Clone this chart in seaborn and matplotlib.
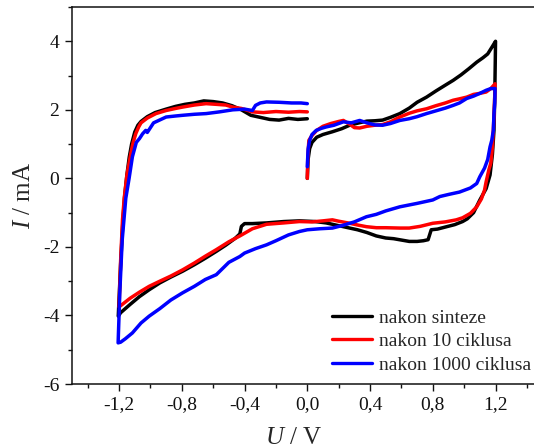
import numpy as np
import pandas as pd
import matplotlib
matplotlib.use('Agg')
import matplotlib.pyplot as plt
import seaborn as sns
from matplotlib.lines import Line2D
from matplotlib.ticker import FixedLocator, MultipleLocator

# --- podaci ocitani sa slike (U / V, I / mA) ---
u_sinteze = [0.00, 0.005, 0.015, 0.03, 0.06, 0.10, 0.16, 0.22, 0.27, 0.33, 0.38, 0.43, 0.48, 0.53,
             0.59, 0.65, 0.70, 0.76, 0.82, 0.88, 0.93, 0.98, 1.03, 1.08, 1.12, 1.15, 1.18, 1.20,
             1.198, 1.195, 1.19, 1.18, 1.165, 1.14, 1.10, 1.06, 1.02, 0.99, 0.94, 0.88, 0.83, 0.79,
             0.77, 0.74, 0.70, 0.65, 0.60, 0.55, 0.50, 0.44, 0.38, 0.32, 0.27, 0.20, 0.12, 0.05,
             -0.05, -0.15, -0.26, -0.35, -0.40, -0.42, -0.43, -0.46, -0.52, -0.58, -0.65, -0.72,
             -0.795, -0.87, -0.94, -1.008, -1.07, -1.13, -1.19, -1.205,
             -1.19, -1.175, -1.165, -1.15, -1.135, -1.12, -1.10, -1.08, -1.06, -1.02, -0.97, -0.90,
             -0.84, -0.78, -0.72, -0.66, -0.60, -0.54, -0.48, -0.42, -0.36, -0.30, -0.24, -0.18,
             -0.12, -0.06, 0.00]
i_sinteze = [0.00, 0.55, 0.87, 1.05, 1.20, 1.28, 1.36, 1.45, 1.55, 1.62, 1.67, 1.68, 1.70, 1.78,
             1.89, 2.05, 2.22, 2.37, 2.55, 2.72, 2.86, 3.02, 3.20, 3.39, 3.52, 3.63, 3.85, 4.00,
             3.34, 2.40, 1.40, 0.70, 0.10, -0.30, -0.63, -1.00, -1.18, -1.26, -1.35, -1.42, -1.48, -1.50,
             -1.79, -1.82, -1.84, -1.84, -1.80, -1.76, -1.74, -1.68, -1.58, -1.50, -1.45, -1.38, -1.30, -1.26,
             -1.24, -1.26, -1.30, -1.32, -1.32, -1.40, -1.62, -1.75, -1.95, -2.13, -2.33, -2.52,
             -2.71, -2.88, -3.05, -3.25, -3.45, -3.68, -3.92, -4.02,
             -2.50, -1.20, -0.55, 0.10, 0.62, 1.00, 1.35, 1.55, 1.66, 1.80, 1.92, 2.02,
             2.10, 2.16, 2.20, 2.26, 2.24, 2.20, 2.12, 2.00, 1.84, 1.78, 1.72, 1.70,
             1.75, 1.72, 1.74]

u_10 = [0.00, 0.003, 0.01, 0.03, 0.06, 0.10, 0.15, 0.20, 0.23, 0.27, 0.30, 0.334, 0.38, 0.43, 0.48,
        0.53, 0.59, 0.65, 0.70, 0.76, 0.82, 0.88, 0.93, 0.97, 1.016, 1.06, 1.10, 1.14, 1.17, 1.197,
        1.195, 1.19, 1.18, 1.17, 1.157, 1.14, 1.13, 1.11, 1.08, 1.04, 0.99, 0.95, 0.88, 0.80, 0.72,
        0.65, 0.59, 0.50, 0.44, 0.377, 0.32, 0.27, 0.20, 0.16, 0.10, 0.03, -0.05, -0.15, -0.26, -0.35,
        -0.43, -0.50, -0.58, -0.65, -0.72, -0.795, -0.87, -0.94, -1.008, -1.07, -1.13, -1.18, -1.20,
        -1.19, -1.178, -1.167, -1.15, -1.125, -1.11, -1.093, -1.075, -1.06, -1.02, -0.965, -0.90,
        -0.84, -0.795, -0.72, -0.645, -0.58, -0.52, -0.475, -0.42, -0.35, -0.28, -0.20, -0.12, -0.05, 0.00]
i_10 = [0.00, 0.60, 1.11, 1.25, 1.40, 1.52, 1.60, 1.66, 1.69, 1.58, 1.48, 1.47, 1.52, 1.55, 1.57,
        1.65, 1.79, 1.90, 1.97, 2.03, 2.12, 2.20, 2.28, 2.32, 2.37, 2.45, 2.48, 2.52, 2.62, 2.76,
        2.40, 1.80, 0.90, 0.45, 0.24, -0.10, -0.34, -0.60, -0.83, -1.02, -1.15, -1.21, -1.27, -1.31, -1.40,
        -1.45, -1.45, -1.44, -1.44, -1.41, -1.36, -1.31, -1.25, -1.21, -1.24, -1.27, -1.26, -1.30, -1.34, -1.47,
        -1.68, -1.85, -2.08, -2.27, -2.47, -2.67, -2.85, -3.00, -3.15, -3.32, -3.50, -3.68, -3.75,
        -2.40, -1.20, -0.58, 0.10, 0.73, 1.05, 1.31, 1.50, 1.62, 1.76, 1.89, 1.98,
        2.04, 2.08, 2.14, 2.18, 2.16, 2.14, 2.08, 2.04, 1.94, 1.92, 1.95, 1.93, 1.95, 1.94]

u_1000 = [0.00, 0.005, 0.015, 0.03, 0.057, 0.09, 0.12, 0.17, 0.23, 0.28, 0.334, 0.38, 0.43, 0.48,
          0.53, 0.59, 0.65, 0.70, 0.76, 0.82, 0.88, 0.93, 0.97, 1.016, 1.06, 1.10, 1.14, 1.17, 1.197,
          1.195, 1.19, 1.186, 1.176, 1.165, 1.15, 1.13, 1.10, 1.08, 1.04, 0.97, 0.90, 0.845, 0.80,
          0.70, 0.59, 0.50, 0.44, 0.377, 0.30, 0.22, 0.16, 0.08, 0.00, -0.05, -0.12, -0.20, -0.26,
          -0.33, -0.40, -0.43, -0.50, -0.58, -0.65, -0.72, -0.795, -0.87, -0.94, -1.008, -1.06,
          -1.115, -1.16, -1.19, -1.206,
          -1.195, -1.18, -1.157, -1.136, -1.115, -1.09, -1.07, -1.05, -1.03, -1.02, -0.98, -0.90,
          -0.84, -0.795, -0.72, -0.645, -0.56, -0.475, -0.40, -0.35, -0.33, -0.30, -0.26, -0.18,
          -0.10, -0.04, 0.00]
i_1000 = [0.34, 0.85, 1.11, 1.28, 1.40, 1.46, 1.50, 1.55, 1.65, 1.62, 1.69, 1.62, 1.56, 1.55,
          1.60, 1.69, 1.74, 1.80, 1.89, 1.97, 2.05, 2.13, 2.20, 2.33, 2.40, 2.48, 2.57, 2.62, 2.62,
          2.20, 1.89, 1.40, 1.11, 0.92, 0.55, 0.30, 0.05, -0.15, -0.28, -0.40, -0.47, -0.53, -0.63,
          -0.73, -0.83, -0.95, -1.05, -1.12, -1.27, -1.38, -1.45, -1.47, -1.50, -1.55, -1.65, -1.82, -1.94,
          -2.05, -2.18, -2.28, -2.45, -2.81, -2.95, -3.15, -3.34, -3.55, -3.80, -4.02, -4.22,
          -4.51, -4.68, -4.78, -4.80,
          -3.30, -1.80, -0.58, 0.00, 0.63, 1.05, 1.16, 1.30, 1.40, 1.34, 1.62, 1.79,
          1.82, 1.84, 1.87, 1.89, 1.94, 2.00, 2.02, 1.98, 2.13, 2.20, 2.23, 2.22,
          2.20, 2.20, 2.18]

nazivi = ['nakon sinteze', 'nakon 10 ciklusa', 'nakon 1000 ciklusa']
boje = ['black', 'red', 'blue']

x_ticks = [-1.2, -0.8, -0.4, 0.0, 0.4, 0.8, 1.2]
x_labels = ['-1,2', '-0,8', '-0,4', '0,0', '0,4', '0,8', '1,2']
y_ticks = [-6, -4, -2, 0, 2, 4]
y_labels = ['-6', '-4', '-2', '0', '2', '4']

frames = []
for naziv, u, i in zip(nazivi, [u_sinteze, u_10, u_1000], [i_sinteze, i_10, i_1000]):
    frames.append(pd.DataFrame({'U': u, 'I': i, 'uzorak': naziv}))
df = pd.concat(frames, ignore_index=True)

sns.set_style('ticks')
plt.rcParams['font.family'] = ['Liberation Serif', 'DejaVu Serif']
plt.rcParams['mathtext.fontset'] = 'custom'
plt.rcParams['mathtext.rm'] = 'Liberation Serif'
plt.rcParams['mathtext.it'] = 'Liberation Serif:italic'
plt.rcParams['axes.unicode_minus'] = False

fig = plt.figure(figsize=(5.34, 4.48), dpi=100)
ax = fig.add_axes([72 / 534, 64 / 448, 470.6 / 534, 377 / 448])

sns.lineplot(data=df, x='U', y='I', hue='uzorak', hue_order=nazivi,
             palette=dict(zip(nazivi, boje)), sort=False, estimator=None,
             lw=2.5, legend=False, ax=ax)

ax.set_xlim(-1.5, 1.5)
ax.set_ylim(-6, 5)
ax.xaxis.set_major_locator(FixedLocator(x_ticks))
ax.set_xticklabels(x_labels)
ax.xaxis.set_minor_locator(MultipleLocator(0.2))
ax.yaxis.set_major_locator(FixedLocator(y_ticks))
ax.set_yticklabels(y_labels)
ax.yaxis.set_minor_locator(MultipleLocator(1))

ax.tick_params(which='major', direction='out', length=5, width=1, labelsize=14, pad=4,
               colors='#111111')
ax.tick_params(which='minor', direction='out', length=3, width=1, colors='#111111')
for s in ['left', 'bottom', 'top']:
    ax.spines[s].set_linewidth(1.1)
    ax.spines[s].set_color('#111111')
ax.spines['right'].set_visible(False)

ax.set_xlabel(r'$\mathit{U}$ / V', fontsize=18)
ax.set_ylabel(r'$\mathit{I}$ / mA', fontsize=18)
ax.xaxis.set_label_coords(0.47, -0.115)
ax.yaxis.set_label_coords(-0.078, 0.5)

handles = [Line2D([], [], color=c, lw=2.4) for c in boje]
ax.legend(handles, nazivi, loc='lower left', bbox_to_anchor=(314 / 534, 57 / 448),
          bbox_transform=fig.transFigure, frameon=False, fontsize=14,
          handlelength=2.1, handletextpad=0.35, labelspacing=0.29, borderpad=0.4)

fig.savefig('out.png', dpi=100)
